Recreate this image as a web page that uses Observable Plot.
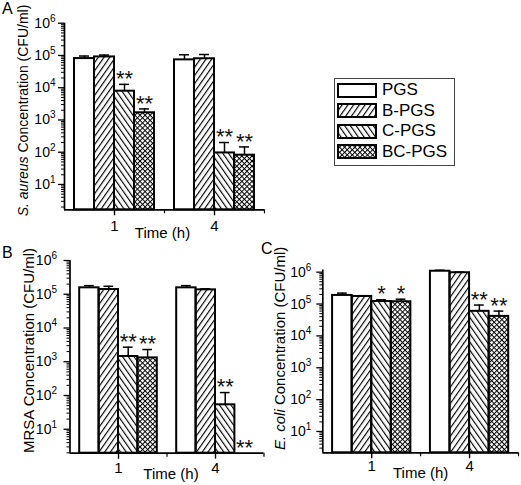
<!DOCTYPE html>
<html><head><meta charset="utf-8">
<script src="https://cdn.jsdelivr.net/npm/d3@7"></script>
<script src="https://cdn.jsdelivr.net/npm/@observablehq/plot@0.6"></script>
<style>
html,body{margin:0;padding:0;background:#fff;}
#fig{position:relative;width:521px;height:485px;overflow:hidden;font-family:"Liberation Sans",Arial,sans-serif;color:#000;background:#fff;}
.panel{position:absolute;}
.letter{position:absolute;font-size:16px;line-height:16px;}
#legend{position:absolute;left:334px;top:78px;width:121px;height:88px;border:1px solid #444;box-sizing:border-box;}
.lrow{position:absolute;left:2px;height:20px;display:flex;align-items:center;font-size:17px;}
.lrow svg{display:block;margin-right:5px;}
</style></head><body>
<svg width="0" height="0" style="position:absolute">
<defs>
<pattern id="pB" patternUnits="userSpaceOnUse" width="4.7" height="4" patternTransform="rotate(35)"><rect x="0" y="0" width="1.15" height="4" fill="#000"/></pattern>
<pattern id="pC" patternUnits="userSpaceOnUse" width="4.7" height="4" patternTransform="rotate(-35)"><rect x="0" y="0" width="1.15" height="4" fill="#000"/></pattern>
<pattern id="pBC" patternUnits="userSpaceOnUse" width="3.6" height="3.6" patternTransform="rotate(45)"><rect x="0" y="0" width="1" height="3.6" fill="#000"/><rect x="0" y="0" width="3.6" height="1" fill="#000"/></pattern>
</defs></svg>
<div id="fig"></div>
<script>
// ---- data ----
const groups = ["PGS", "B-PGS", "C-PGS", "BC-PGS"];
const times = ["1", "4"];
const xTitle = "Time (h)";
const yTickValues = [1e1, 1e2, 1e3, 1e4, 1e5, 1e6];

// S. aureus (panel A): mean and mean+SD, rows = time, cols = group
const aureusMean  = [[8.0e4, 9.0e4, 7.8e3, 1.67e3], [7.3e4, 7.9e4, 95, 81]];
const aureusUpper = [[9.6e4, 1.03e5, 1.27e4, 2.2e3], [1.05e5, 1.07e5, 200, 146]];
const aureusSig   = [["", "", "**", "**"], ["", "", "**", "**"]];

// MRSA (panel B); 0 = not detected
const mrsaMean  = [[1.55e5, 1.38e5, 1.43e3, 1.3e3], [1.55e5, 1.35e5, 53, 0]];
const mrsaUpper = [[1.8e5, 1.72e5, 2.7e3, 2.3e3], [1.8e5, 1.45e5, 122, 0]];
const mrsaSig   = [["", "", "**", "**"], ["", "", "**", "**"]];

// E. coli (panel C)
const ecoliMean  = [[1.86e5, 1.73e5, 1.2e5, 1.18e5], [1.07e6, 9.6e5, 5.9e4, 4.1e4]];
const ecoliUpper = [[2.2e5, 1.8e5, 1.36e5, 1.42e5], [1.15e6, 1.0e6, 9.3e4, 6.0e4]];
const ecoliSig   = [["", "", "*", "*"], ["", "", "**", "**"]];

// ---- styles ----
const groupFill = ["white", "url(#pB)", "url(#pC)", "url(#pBC)"];
const FONT = "'Liberation Sans', Arial, sans-serif";

const fig = document.getElementById("fig");

function panel(cfg) {
  const rows = [];
  times.forEach((t, ti) => groups.forEach((g, gi) => rows.push({
    ti, gi, time: t, group: g,
    mean: cfg.mean[ti][gi], upper: cfg.upper[ti][gi], sig: cfg.sig[ti][gi]
  })));
  const W = 0.2;
  const x1 = d => d.ti + (d.gi - 2) * W;
  const x2 = d => d.ti + (d.gi - 1) * W;
  const xc = d => d.ti + (d.gi - 1.5) * W;
  const present = rows.filter(d => d.mean > 0);
  const ymin = cfg.ymin, ymax = cfg.ymax;
  const minors = [];
  for (let e = 0; e < 7; e++) for (let m = 2; m <= 9; m++) {
    const v = m * Math.pow(10, e);
    if (v >= ymin && v <= ymax) minors.push(v);
  }
  const fullTitle = cfg.italic + cfg.rest;
  const svg = Plot.plot({
    width: cfg.width, height: cfg.height,
    marginTop: cfg.mt, marginBottom: cfg.mb, marginLeft: cfg.ml, marginRight: cfg.mr,
    style: {fontFamily: FONT, fontSize: "14px", background: "transparent", color: "black", overflow: "visible"},
    x: {domain: [-0.5, 1.5]},
    y: {type: "log", domain: [ymin, ymax]},
    color: {type: "identity"},
    marks: [
      Plot.rect(present, {x1, x2, y1: () => ymin, y2: "mean", fill: d => groupFill[d.gi], stroke: "black", strokeWidth: 2}),
      Plot.ruleX(present, {x: xc, y1: "mean", y2: "upper", stroke: "black", strokeWidth: 1.5}),
      Plot.ruleY(present, {y: "upper", x1: d => xc(d) - 0.05, x2: d => xc(d) + 0.05, stroke: "black", strokeWidth: 1.5}),
      Plot.text(rows.filter(d => d.sig), {x: xc, y: d => d.mean > 0 ? d.upper : ymin, text: "sig", dy: -5.4, fontSize: 22, fill: "#111"}),
      Plot.ruleX([-0.5], {stroke: "black", strokeWidth: 1.7}),
      Plot.ruleY([ymin], {stroke: "black", strokeWidth: 1.7}),
      Plot.axisY({ticks: yTickValues, tickSize: 6, tickPadding: cfg.ypad, tickFormat: d => "10^" + Math.round(Math.log10(d)), fontSize: 14, label: null, strokeWidth: 1.3}),
      Plot.axisY({ticks: minors, tickSize: 3, tickFormat: () => "", label: null, strokeWidth: 1}),
      Plot.axisX({ticks: [0, 1], tickSize: 6, tickPadding: cfg.xpad, tickFormat: i => times[i], fontSize: 15, label: null, strokeWidth: 1.4}),
      Plot.axisX({ticks: [0.5, 1.5], tickSize: 4, tickFormat: () => "", label: null, strokeWidth: 1.2}),
      Plot.text([xTitle], {frameAnchor: "bottom", text: d => d, textAnchor: "middle", lineAnchor: "top", dy: cfg.timeDy, dx: cfg.timeDx, fontSize: 15}),
      Plot.text([fullTitle], {frameAnchor: "left", text: d => d, rotate: -90, textAnchor: "middle", lineAnchor: "middle", dx: cfg.titleDx, dy: cfg.titleDy, fontSize: cfg.titleSize})
    ]
  });
  // superscripts on tick labels and italic species name
  svg.querySelectorAll("text").forEach(t => {
    const s = t.textContent;
    const m = /^10\^(\d+)$/.exec(s);
    if (m) {
      t.textContent = "10";
      const sp = document.createElementNS("http://www.w3.org/2000/svg", "tspan");
      sp.setAttribute("font-size", "10");
      sp.setAttribute("dy", "-6");
      sp.textContent = m[1];
      t.appendChild(sp);
    } else if (s === fullTitle && cfg.italic) {
      t.textContent = "";
      const a = document.createElementNS("http://www.w3.org/2000/svg", "tspan");
      a.setAttribute("font-style", "italic");
      a.textContent = cfg.italic;
      const b = document.createElementNS("http://www.w3.org/2000/svg", "tspan");
      b.textContent = cfg.rest;
      t.appendChild(a); t.appendChild(b);
    }
  });
  const wrap = document.createElement("div");
  wrap.className = "panel";
  wrap.style.left = cfg.left + "px";
  wrap.style.top = cfg.top + "px";
  wrap.appendChild(svg);
  fig.appendChild(wrap);
  const L = document.createElement("div");
  L.className = "letter";
  L.style.left = cfg.letterX + "px";
  L.style.top = cfg.letterY + "px";
  L.textContent = cfg.letter;
  fig.appendChild(L);
}

panel({mean: aureusMean, upper: aureusUpper, sig: aureusSig, italic: "S. aureus", rest: " Concentration (CFU/ml)",
  left: 0, top: 0, width: 270, height: 245, ml: 64, mr: 6, mt: 22.7, mb: 35.7, ymin: 1.64, ymax: 1e6,
  ypad: 3, xpad: 4.7, timeDy: 17.4, timeDx: -2, titleDx: -41.4, titleDy: -6, titleSize: 14,
  letter: "A", letterX: 2, letterY: 1});

panel({mean: mrsaMean, upper: mrsaUpper, sig: mrsaSig, italic: "", rest: "MRSA Concentration (CFU/ml)",
  left: 0, top: 240, width: 270, height: 245, ml: 69.5, mr: 6.5, mt: 20, mb: 32.3, ymin: 1.95, ymax: 1e6,
  ypad: 7, xpad: 3, timeDy: 15, timeDx: 4, titleDx: -41.3, titleDy: -6.4, titleSize: 15,
  letter: "B", letterX: 2, letterY: 245});

panel({mean: ecoliMean, upper: ecoliUpper, sig: ecoliSig, italic: "E. coli", rest: " Concentration (CFU/ml)",
  left: 260, top: 240, width: 261, height: 245, ml: 62.3, mr: 3, mt: 29.5, mb: 32.7, ymin: 2.14, ymax: 1.17e6,
  ypad: 5.5, xpad: 1.7, timeDy: 14.4, timeDx: 0, titleDx: -42.3, titleDy: -13, titleSize: 15,
  letter: "C", letterX: 261, letterY: 241});

// legend
const legend = document.createElement("div");
legend.id = "legend";
groups.forEach((g, i) => {
  const row = document.createElement("div");
  row.className = "lrow";
  row.style.top = (1 + i * 20.5) + "px";
  row.innerHTML = `<svg width="40" height="15"><rect x="1" y="1" width="38" height="13" fill="${groupFill[i]}" stroke="black" stroke-width="2"/></svg><span>${g}</span>`;
  legend.appendChild(row);
});
fig.appendChild(legend);
</script>
</body></html>
